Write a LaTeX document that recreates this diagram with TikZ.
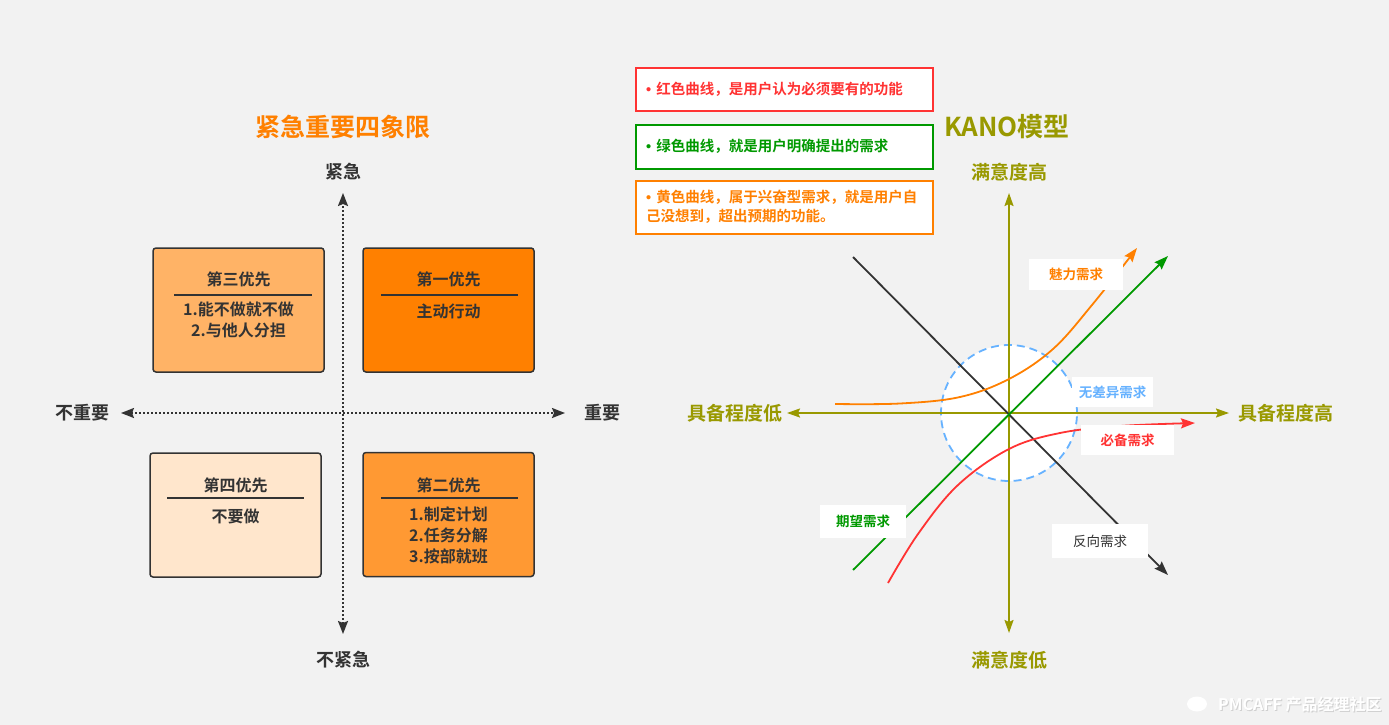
\documentclass[tikz,border=0pt]{standalone}
\usepackage{fontspec}
\setmainfont{Noto Sans CJK SC}[BoldFont={Noto Sans CJK SC Bold}]
\newfontfamily\bulletfont{Liberation Sans}
\usetikzlibrary{arrows.meta,calc,shapes.geometric}
\definecolor{bg}{HTML}{F2F2F2}
\definecolor{dark}{HTML}{333333}
\definecolor{qorange}{HTML}{FF8000}
\definecolor{qlorange}{HTML}{FFB366}
\definecolor{qllorange}{HTML}{FFE6CC}
\definecolor{qmorange}{HTML}{FF9933}
\definecolor{olive}{HTML}{999900}
\definecolor{kgreen}{HTML}{009900}
\definecolor{kred}{HTML}{FF3333}
\definecolor{kblue}{HTML}{66B2FF}
\definecolor{wmshadow}{HTML}{D0D0D0}
\newcommand{\lgbullet}{{\bulletfont •}\hspace{5pt}}
\begin{document}
\begin{tikzpicture}[x=1pt,y=-1pt,
  quad/.style={draw=dark, line width=1.5, rounded corners=3, minimum width=171, minimum height=124, inner sep=0},
  qtitle/.style={font=\fontsize{16}{21}\selectfont\bfseries, text=dark, inner sep=0},
  qbody/.style={font=\fontsize{16}{21}\selectfont\bfseries, text=dark, align=center, inner sep=0},
  qrule/.style={draw=dark, line width=1.5},
  axlab/.style={font=\fontsize{18}{22}\selectfont\bfseries, text=dark, inner sep=0},
  bigtitle/.style={font=\fontsize{25}{30}\selectfont\bfseries, inner sep=0},
  kaxlab/.style={font=\fontsize{19}{23}\selectfont\bfseries, text=olive, inner sep=0},
  dotaxis/.style={draw=dark, line width=1.8, dash pattern=on 1.8pt off 2.2pt, {Stealth[length=13,width=10,inset=2]}-{Stealth[length=13,width=10,inset=2]}},
  kaxis/.style={draw=olive, line width=1.8, {Stealth[length=13,width=9,inset=2]}-{Stealth[length=13,width=9,inset=2]}},
  legend/.style={draw=#1, line width=1.8, fill=white, minimum width=297, inner sep=0, anchor=north west},
  legtext/.style={font=\fontsize{14.5}{19.5}\selectfont\bfseries, text=#1, align=left, inner sep=0, anchor=west},
  klab/.style={fill=white, inner sep=0, font=\fontsize{13.5}{16}\selectfont\bfseries, text=#1},
  curve/.style={draw=#1, line width=1.8, -{Stealth[length=14,width=10,inset=2]}},
  wmtext/.style={inner sep=0, anchor=west, font=\fontsize{16}{18}\selectfont\bfseries}
]
\path[fill=bg] (0,0) rectangle (1389,725);
\useasboundingbox (0,0) rectangle (1389,725);

% ===== Left: quadrant =====
\node[bigtitle, text=qorange] (ltitle) at (343,127) {紧急重要四象限};

\coordinate (vt) at (343,193);
\coordinate (vb) at (343,634);
\coordinate (hl) at (121,413);
\coordinate (hr) at (565,413);
\draw[dotaxis] (vb) -- (vt);
\draw[dotaxis] (hl) -- (hr);

\node[axlab] (urgent) at (343,172) {紧急};
\node[axlab] (noturgent) at (343,660) {不紧急};
\node[axlab] (notimp) at (82,413) {不重要};
\node[axlab] (imp) at (602,413) {重要};

% Q3
\node[quad, fill=qlorange] (q3) at (238.5,310) {};
\node[qtitle] (q3t) at (238.5,279) {第三优先};
\coordinate (q3l) at (174,295); \coordinate (q3r) at (312,295);
\draw[qrule] (q3l) -- (q3r);
\node[qbody, anchor=north] (q3b) at (238.5,302) {1.能不做就不做\\2.与他人分担};

% Q1
\node[quad, fill=qorange] (q1) at (448.5,310) {};
\node[qtitle] (q1t) at (448.5,279) {第一优先};
\coordinate (q1l) at (381,295); \coordinate (q1r) at (518,295);
\draw[qrule] (q1l) -- (q1r);
\node[qbody, anchor=north] (q1b) at (448.5,304) {主动行动};

% Q4
\node[quad, fill=qllorange] (q4) at (235.5,515) {};
\node[qtitle] (q4t) at (235.5,485) {第四优先};
\coordinate (q4l) at (167,498); \coordinate (q4r) at (304,498);
\draw[qrule] (q4l) -- (q4r);
\node[qbody, anchor=north] (q4b) at (235.5,509) {不要做};

% Q2
\node[quad, fill=qmorange] (q2) at (448.5,514.5) {};
\node[qtitle] (q2t) at (448.5,485) {第二优先};
\coordinate (q2l) at (381,498); \coordinate (q2r) at (518,498);
\draw[qrule] (q2l) -- (q2r);
\node[qbody, anchor=north] (q2b) at (448.5,507) {1.制定计划\\2.任务分解\\3.按部就班};

% ===== Legend =====
\node[legend=kred, minimum height=43] (lg1) at (635,67) {};
\node[legtext=kred] (lg1t) at (646,89) {\lgbullet 红色曲线，是用户认为必须要有的功能};
\node[legend=kgreen, minimum height=44] (lg2) at (635,124) {};
\node[legtext=kgreen] (lg2t) at (646,146) {\lgbullet 绿色曲线，就是用户明确提出的需求};
\node[legend=qorange, minimum height=53] (lg3) at (635,180) {};
\node[legtext=qorange] (lg3t) at (646,207) {\lgbullet 黄色曲线，属于兴奋型需求，就是用户自\\己没想到，超出预期的功能。};

% ===== Right: KANO =====
\node[bigtitle, text=olive, font=\fontsize{26}{30}\selectfont\bfseries] (ktitle) at (1007,127) {KANO模型};

% circle
\node[circle, draw=kblue, fill=white, line width=1.8, dash pattern=on 8pt off 5pt, minimum size=136, inner sep=0] (nodiff) at (1009,413) {};

\coordinate (kvt) at (1009,193);
\coordinate (kvb) at (1009,633);
\coordinate (khl) at (787,413);
\coordinate (khr) at (1229,413);
\draw[kaxis] (kvb) -- (kvt);
\draw[kaxis] (khl) -- (khr);

\node[kaxlab] (khigh) at (1009,172) {满意度高};
\node[kaxlab] (klow) at (1009,660) {满意度低};
\node[kaxlab] (kleft) at (735,413) {具备程度低};
\node[kaxlab] (kright) at (1285.5,413) {具备程度高};

% black line (reverse)
\coordinate (bk1) at (853,257);
\coordinate (bk2) at (1168,575);
\draw[curve=dark] (bk1) -- (bk2);
% green line (expected)
\coordinate (gr1) at (853,570);
\coordinate (gr2) at (1168,256);
\draw[curve=kgreen] (gr1) -- (gr2);
% orange curve (attractive)
\draw[curve=qorange] plot[smooth, tension=0.6] coordinates {(835,404) (900,403.5) (960,397) (1009,379) (1053,349) (1092,305) (1137,248)};
% red curve (must-be)
\draw[curve=kred] plot[smooth, tension=0.6] coordinates {(888,583) (918,534) (958,485) (1009,449) (1060,433) (1120,426) (1195,423)};

% labels
\node[klab=qorange, minimum width=94, minimum height=31] (lmeili) at (1076,274.5) {魅力需求};
\node[klab=kblue, minimum width=81, minimum height=30] (lwucha) at (1112.5,392) {无差异需求};
\node[klab=kred, minimum width=93, minimum height=30] (lbibei) at (1127.5,440) {必备需求};
\node[klab=kgreen, minimum width=86, minimum height=33] (lqiwang) at (863,521.5) {期望需求};
\node[klab=dark, minimum width=96, minimum height=34, font=\fontsize{13.5}{16}\selectfont] (lfanxiang) at (1100,541) {反向需求};

% watermark
\node[fill=white, ellipse, minimum width=20, minimum height=15, inner sep=0] (wmlogo) at (1197,704) {};
\node[wmtext, text=wmshadow] (wmshadow) at (1219,705) {PMCAFF 产品经理社区};
\node[wmtext, text=white] (wm) at (1218,704) {PMCAFF 产品经理社区};
\end{tikzpicture}
\end{document}
